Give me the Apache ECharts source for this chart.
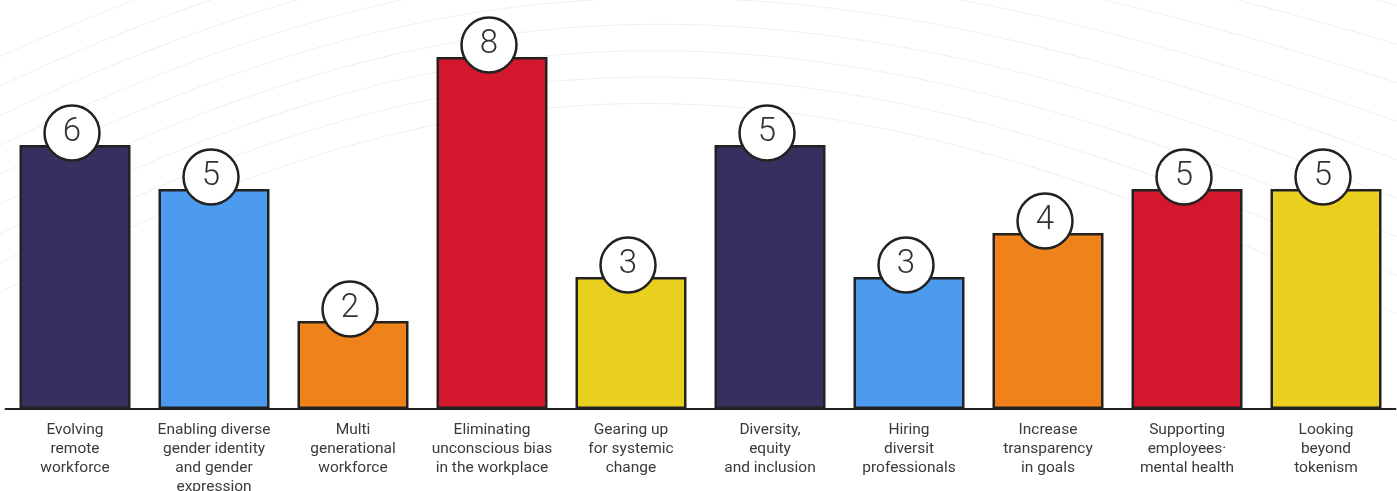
<!DOCTYPE html>
<html>
<head>
<meta charset="utf-8">
<script src="https://cdn.jsdelivr.net/npm/echarts@6/dist/echarts.min.js"></script>
<style>
html,body{margin:0;padding:0;background:#fff;}
#chart{width:1397px;height:491px;}
</style>
</head>
<body>
<div id="chart"></div>
<script>
const categories = [
  "Evolving\nremote\nworkforce",
  "Enabling diverse\ngender identity\nand gender\nexpression",
  "Multi\ngenerational\nworkforce",
  "Eliminating\nunconscious bias\nin the workplace",
  "Gearing up\nfor systemic\nchange",
  "Diversity,\nequity\nand inclusion",
  "Hiring\ndiversit\nprofessionals",
  "Increase\ntransparency\nin goals",
  "Supporting\nemployees·\nmental health",
  "Looking\nbeyond\ntokenism"
];
const barHeights = [6, 5, 2, 8, 3, 6, 3, 4, 5, 5];
const badgeLabels = [6, 5, 2, 8, 3, 5, 3, 4, 5, 5];
const barColors = ["#372f5e", "#4c9bef", "#f0821b", "#d3172d", "#e9cf1e", "#372f5e", "#4c9bef", "#f0821b", "#d3172d", "#e9cf1e"];

const chart = echarts.init(document.getElementById('chart'));

// decorative faint background curves
const deco = [];
for (let i = 0; i < 9; i++) {
  deco.push({
    type: 'bezierCurve', z: -10, silent: true,
    shape: { x1: -50, y1: 80 + i * 30, cpx1: 450, cpy1: -160 + i * 25, cpx2: 800, cpy2: -160 + i * 22, x2: 1450, y2: 20 + i * 40 },
    style: { stroke: '#efefef', lineWidth: 1, fill: null }
  });
}

chart.setOption({
  animation: false,
  graphic: deco,
  grid: { left: 5.5, right: 1.5, top: 13, bottom: 82, containLabel: false, outerBoundsMode: 'none' },
  xAxis: {
    type: 'category',
    data: categories,
    axisLine: { show: true, lineStyle: { color: '#222', width: 2 } },
    axisTick: { show: false },
    axisLabel: {
      interval: 0, color: '#3a3a3a', fontSize: 15.5, lineHeight: 19,
      fontFamily: 'Roboto', margin: 12, verticalAlign: 'top'
    }
  },
  yAxis: {
    type: 'value', min: 0, max: 9, show: false,
    splitLine: { show: false }
  },
  series: [
    {
      type: 'bar',
      data: barHeights.map((v, i) => ({ value: v, itemStyle: { color: barColors[i] } })),
      barWidth: 111,
      itemStyle: { borderColor: '#222', borderWidth: 2.5 },
      z: 2
    },
    {
      type: 'scatter',
      data: barHeights,
      symbol: 'circle',
      symbolSize: 55,
      symbolOffset: [-3, -12],
      itemStyle: { color: '#fff', borderColor: '#222', borderWidth: 2.5, opacity: 1 },
      label: {
        show: true, position: 'inside',
        formatter: p => String(badgeLabels[p.dataIndex]),
        fontSize: 33, color: '#333', fontFamily: 'Roboto', fontWeight: 300
      },
      z: 5
    }
  ]
});
</script>
</body>
</html>
